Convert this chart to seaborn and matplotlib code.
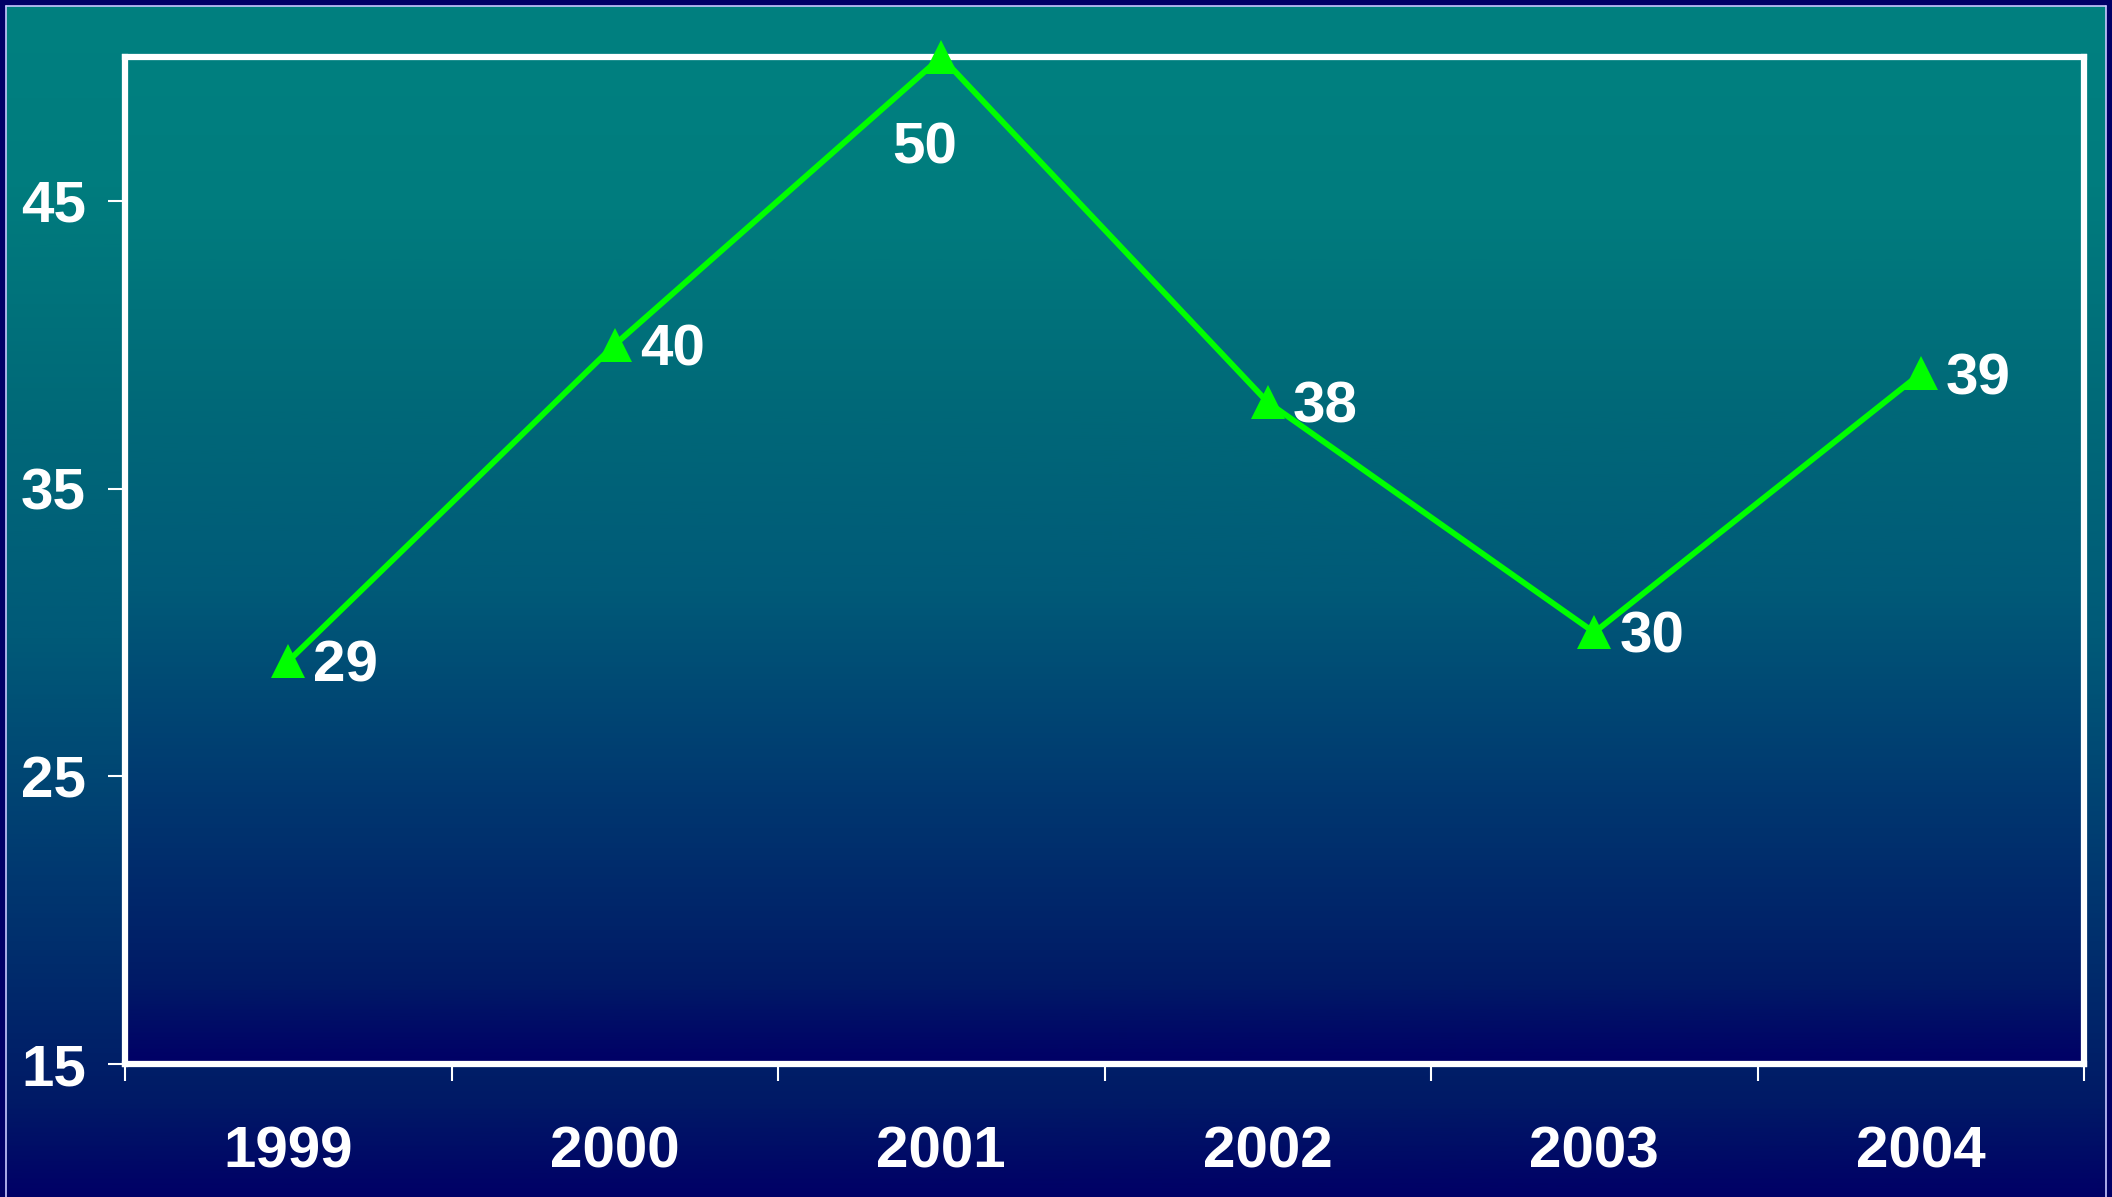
import numpy as np
import matplotlib
matplotlib.use("Agg")
import matplotlib.pyplot as plt
import seaborn as sns
from matplotlib.colors import LinearSegmentedColormap
from matplotlib.ticker import FixedLocator, NullFormatter, FixedFormatter

years = ["1999", "2000", "2001", "2002", "2003", "2004"]
values = [29, 40, 50, 38, 30, 39]
yticks = [15, 25, 35, 45]
label_offsets = [(18, -4), (18, -4), (-12, -66), (18, -4), (18, -4), (18, -4)]

sns.set_theme(style="white")
plt.rcParams['font.family'] = ['Liberation Sans', 'DejaVu Sans']

W, H = 2112, 1197
fig = plt.figure(figsize=(W / 100, H / 100), dpi=100)
fig.patch.set_facecolor("#000066")

stops = [(0.0, "#008080"), (0.15, "#007c7e"), (0.35, "#006878"), (0.53, "#005a78"),
         (0.73, "#003870"), (0.92, "#001a66"), (1.0, "#000066")]
grad = LinearSegmentedColormap.from_list("g", stops)
g = np.linspace(0, 1, 512).reshape(-1, 1)

# figure background gradient panel
bg = fig.add_axes([6 / W, 0, 2100 / W, (H - 6) / H])
bg.imshow(g, aspect="auto", cmap=grad, extent=[0, 1, 0, 1], origin="upper")
bg.set_axis_off()
fig.add_artist(plt.Line2D([6 / W, 6 / W], [0, 1 - 6 / H], color="#c8c8ff", lw=1.2))
fig.add_artist(plt.Line2D([6 / W, 2106 / W], [1 - 6 / H, 1 - 6 / H], color="#c8c8ff", lw=1.2))
fig.add_artist(plt.Line2D([2106 / W, 2106 / W], [0, 1 - 6 / H], color="#c8c8ff", lw=1.2))

left, right, top, bottom = 125, 2084, 57, 1064
ax = fig.add_axes([left / W, (H - bottom) / H, (right - left) / W, (bottom - top) / H])
ax.imshow(g, aspect="auto", cmap=grad, extent=[0, 1, 0, 1], transform=ax.transAxes,
          origin="upper", zorder=0)

x = np.arange(len(years))
sns.lineplot(x=x, y=values, ax=ax, color="#00ff00", linewidth=4.2, marker="^",
             markersize=24, markeredgewidth=0, clip_on=False, zorder=5)

for xi, v, (dx, dy) in zip(x, values, label_offsets):
    ha = "left" if dx > 0 else "center"
    ax.annotate(str(v), (xi, v), xytext=(dx, dy), textcoords="offset points",
                ha=ha, va="center", color="white", fontsize=42, fontweight="bold", zorder=6)

ax.set_xlim(-0.5, len(years) - 0.5)
ax.set_ylim(15, 50)
ax.set_facecolor("none")

ax.xaxis.set_major_locator(FixedLocator(np.arange(-0.5, len(years), 1.0)))
ax.xaxis.set_major_formatter(NullFormatter())
ax.xaxis.set_minor_locator(FixedLocator(x))
ax.xaxis.set_minor_formatter(FixedFormatter(years))
ax.tick_params(axis="x", which="major", direction="out", length=12, width=1.5, color="white", bottom=True)
ax.tick_params(axis="x", which="minor", length=0, pad=44, labelsize=42, labelcolor="white", bottom=True)
for lab in ax.get_xticklabels(minor=True):
    lab.set_fontweight("bold")

ax.set_yticks(yticks)
ax.set_yticklabels([str(t) for t in yticks], fontsize=42, fontweight="bold", color="white")
ax.tick_params(axis="y", direction="out", length=12, width=1.5, color="white", pad=16, left=True)

for s in ax.spines.values():
    s.set_color("white")
    s.set_linewidth(4.5)
    s.set_visible(True)

ax.set_xlabel("")
ax.set_ylabel("")
fig.savefig("out.png", dpi=100, facecolor=fig.get_facecolor())
